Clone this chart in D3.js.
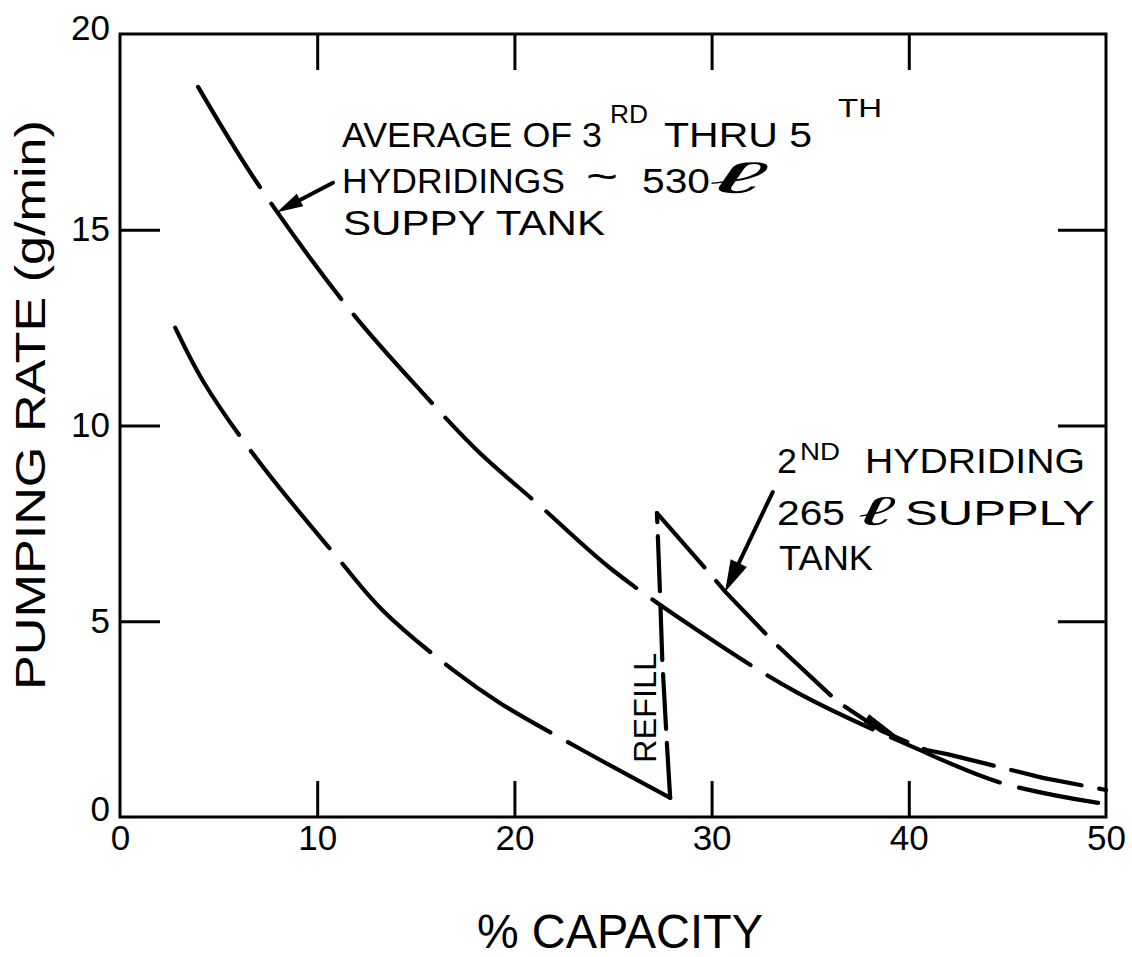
<!DOCTYPE html>
<html>
<head>
<meta charset="utf-8">
<script src="https://cdn.jsdelivr.net/npm/d3@7/dist/d3.min.js"></script>
<style>
  html, body { margin: 0; padding: 0; background: #fff; }
  svg { display: block; }
  text { font-family: "Liberation Sans", Arial, "DejaVu Sans", sans-serif; fill: #000; }
</style>
</head>
<body>
<svg id="chart" width="1132" height="957"></svg>
<script>
// ---------------- DATA ----------------
const xTicks = [0, 10, 20, 30, 40, 50];
const yTicks = [0, 5, 10, 15, 20];
const xInnerTicks = [10, 20, 30, 40];
const yInnerTicks = [5, 10, 15];

// Average of 3rd thru 5th hydridings (~530 l supply tank)
const avg530 = [
  [3.96, 18.65], [6.95, 16.2], [11.66, 12.95], [15.3, 10.86], [18.1, 9.37],
  [21.45, 7.88], [24.85, 6.36], [29.25, 4.78], [34.3, 3.19], [40.2, 1.79],
  [44.7, 0.87], [49.6, 0.36]
];
// 2nd hydriding (265 l supply tank) - before refill
const hyd2Before = [
  [2.8, 12.5], [4.3, 11.06], [7.1, 9.04], [11, 6.64], [13.3, 5.29],
  [16.9, 3.75], [19.3, 2.9], [23.3, 1.75], [27.9, 0.49]
];
// refill jump
const hyd2Refill = [[27.9, 0.49], [27.73, 1.9], [27.5, 4.0], [27.4, 5.5], [27.23, 7.76]];
// after refill
const hyd2After = [
  [27.23, 7.76], [29.67, 6.36], [30.7, 5.75], [33.2, 4.44], [36.4, 2.94],
  [38.6, 2.2], [40.9, 1.71], [42.0, 1.6], [46.8, 1.0], [50, 0.69]
];
// annotation arrows (data coords)
const arrow530 = { from: [10.8, 16.2], to: [7.96, 15.45] };
const arrow265 = { from: [33.1, 8.3], to: [30.68, 5.75] };
const arrowMerge = { from: [37.2, 2.73], to: [40.2, 1.76] };

// ---------------- CHART ----------------
const svg = d3.select("#chart");
const x = d3.scaleLinear().domain([0, 50]).range([120, 1106]);
const y = d3.scaleLinear().domain([0, 20]).range([817, 34]);

// frame
svg.append("rect")
  .attr("x", x(0)).attr("y", y(20))
  .attr("width", x(50) - x(0)).attr("height", y(0) - y(20))
  .attr("fill", "none").attr("stroke", "#000").attr("stroke-width", 3);

function styleAxis(g) {
  g.select(".domain").remove();
  g.selectAll(".tick line").attr("stroke", "#000").attr("stroke-width", 3);
  g.selectAll(".tick text").attr("font-size", 35).attr("font-family", '"Liberation Sans", Arial, sans-serif');
}

// bottom axis with labels, inward ticks
svg.append("g").attr("transform", `translate(0,${y(0)})`)
  .call(d3.axisBottom(x).tickValues(xTicks).tickSizeInner(0).tickSizeOuter(0).tickPadding(8).tickFormat(d3.format("d")))
  .call(styleAxis)
  .call(g => g.selectAll(".tick text").attr("dy", "0.72em"));
svg.append("g").attr("transform", `translate(0,${y(0)})`)
  .call(d3.axisBottom(x).tickValues(xInnerTicks).tickSizeInner(-36).tickSizeOuter(0).tickFormat(""))
  .call(styleAxis);
// top axis ticks
svg.append("g").attr("transform", `translate(0,${y(20)})`)
  .call(d3.axisTop(x).tickValues(xInnerTicks).tickSizeInner(-36).tickSizeOuter(0).tickFormat(""))
  .call(styleAxis);
// left axis labels
svg.append("g").attr("transform", `translate(${x(0)},0)`)
  .call(d3.axisLeft(y).tickValues(yTicks).tickSizeInner(0).tickSizeOuter(0).tickPadding(10).tickFormat(d3.format("d")))
  .call(styleAxis)
  .call(g => g.selectAll(".tick text").filter(d => d === 0).attr("dy", "0.1em"))
  .call(g => g.selectAll(".tick text").filter(d => d === 20).attr("dy", "0.15em"));
svg.append("g").attr("transform", `translate(${x(0)},0)`)
  .call(d3.axisLeft(y).tickValues(yInnerTicks).tickSizeInner(-40).tickSizeOuter(0).tickFormat(""))
  .call(styleAxis);
// right axis ticks
svg.append("g").attr("transform", `translate(${x(50)},0)`)
  .call(d3.axisRight(y).tickValues(yInnerTicks).tickSizeInner(-48).tickSizeOuter(0).tickFormat(""))
  .call(styleAxis);

// axis titles
svg.append("text")
  .attr("x", 620).attr("y", 948)
  .attr("text-anchor", "middle")
  .attr("font-size", 48)
  .attr("textLength", 286).attr("lengthAdjust", "spacingAndGlyphs")
  .text("% CAPACITY");
svg.append("text")
  .attr("transform", "translate(45,405) rotate(-90)")
  .attr("text-anchor", "middle")
  .attr("font-size", 42)
  .attr("textLength", 570).attr("lengthAdjust", "spacingAndGlyphs")
  .text("PUMPING RATE (g/min)");

// curves
const smooth = d3.line().x(d => x(d[0])).y(d => y(d[1])).curve(d3.curveCatmullRom.alpha(0.5));
const straight = d3.line().x(d => x(d[0])).y(d => y(d[1]));

function curve(data, gen, dash, offset) {
  svg.append("path").datum(data)
    .attr("d", gen)
    .attr("fill", "none").attr("stroke", "#000")
    .attr("stroke-width", 4.2).attr("stroke-linecap", "round").attr("stroke-linejoin", "round")
    .attr("stroke-dasharray", dash).attr("stroke-dashoffset", offset || 0);
}
curve(avg530, smooth, "118,20", 0);
curve(hyd2Before, smooth, "125,20", 0);
curve(hyd2Refill, straight, "55,14", 0);
curve(hyd2After, straight, "72,18", 0);

// arrows
function arrow(a, headLen, headW, lineW) {
  const x1 = x(a.from[0]), y1 = y(a.from[1]), x2 = x(a.to[0]), y2 = y(a.to[1]);
  const dx = x2 - x1, dy = y2 - y1, L = Math.hypot(dx, dy);
  const ux = dx / L, uy = dy / L, px = -uy, py = ux;
  const bx = x2 - ux * headLen, by = y2 - uy * headLen;
  svg.append("line").attr("x1", x1).attr("y1", y1).attr("x2", bx).attr("y2", by)
    .attr("stroke", "#000").attr("stroke-width", lineW).attr("stroke-linecap", "round");
  svg.append("path")
    .attr("d", `M${x2},${y2}L${bx + px * headW / 2},${by + py * headW / 2}L${bx - px * headW / 2},${by - py * headW / 2}Z`)
    .attr("fill", "#000");
}
arrow(arrow530, 26, 14, 4);
arrow(arrow265, 32, 18, 4);
arrow(arrowMerge, 55, 10, 0.1);

// annotation text
function label(t, xp, yp, size, w, extra) {
  const el = svg.append("text").attr("x", xp).attr("y", yp).attr("font-size", size).text(t);
  if (w) el.attr("textLength", w).attr("lengthAdjust", "spacingAndGlyphs");
  if (extra) extra(el);
  return el;
}
// 530 annotation
label("AVERAGE OF 3", 342, 147, 35, 260);
label("RD", 610, 123, 25, 38);
label("THRU 5", 664, 147, 35, 148);
label("TH", 838, 117, 25, 44);
label("HYDRIDINGS", 342, 193, 35, 223);
label("~", 586, 190, 40, 32);
label("530", 642, 193, 35, 68);
label("ℓ", 712, 193, 44, 50, el => el.attr("font-style", "italic").attr("font-family", '"DejaVu Sans", sans-serif'));
label("SUPPY TANK", 343, 235, 35, 262);
// 265 annotation
label("2", 777, 473, 35, 20);
label("ND", 800, 460, 24, 40);
label("HYDRIDING", 865, 473, 35, 220);
label("265", 777, 525, 35, 68);
label("ℓ", 860, 525, 40, 32, el => el.attr("font-style", "italic").attr("font-family", '"DejaVu Sans", sans-serif'));
label("SUPPLY", 905, 525, 35, 190);
label("TANK", 779, 570, 35, 94);
// refill label
svg.append("text")
  .attr("transform", "translate(656,763) rotate(-90)")
  .attr("font-size", 31)
  .attr("textLength", 110).attr("lengthAdjust", "spacingAndGlyphs")
  .text("REFILL");
</script>
</body>
</html>
